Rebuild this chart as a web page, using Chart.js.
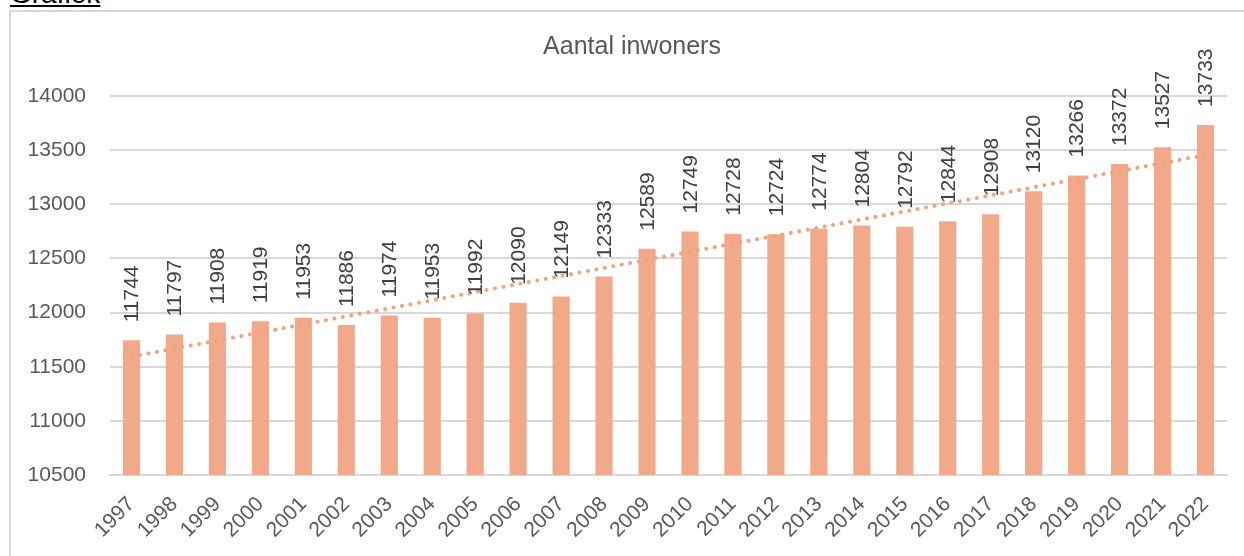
<!DOCTYPE html>
<html>
<head>
<meta charset="utf-8">
<script src="https://cdn.jsdelivr.net/npm/chart.js@4/dist/chart.umd.min.js"></script>
<style>
  html, body { margin: 0; padding: 0; background: #fff; overflow: hidden; }
  #wrap { position: relative; width: 1244px; height: 556px; }
  #frame { position: absolute; left: 9px; top: 10px; width: 1300px; height: 600px;
           border-left: 2px solid #d9d9d9; border-top: 2px solid #d9d9d9; box-sizing: border-box; }
  #heading { position: absolute; left: 10px; top: -21px; font-family: "Liberation Sans", Arial, sans-serif;
             font-size: 28px; color: #000; text-decoration: underline; line-height: 30px; }
  canvas { position: absolute; left: 0; top: 0; }
</style>
</head>
<body>
<div id="wrap">
  <div id="heading">Grafiek</div>
  <div id="frame"></div>
  <canvas id="c" width="1244" height="556"></canvas>
</div>
<script>
const years = ["1997","1998","1999","2000","2001","2002","2003","2004","2005","2006","2007","2008","2009","2010","2011","2012","2013","2014","2015","2016","2017","2018","2019","2020","2021","2022"];
const inwoners = [11744,11797,11908,11919,11953,11886,11974,11953,11992,12090,12149,12333,12589,12749,12728,12724,12774,12804,12792,12844,12908,13120,13266,13372,13527,13733];
const yTicks = [10500,11000,11500,12000,12500,13000,13500,14000];
const chartTitle = "Aantal inwoners";

// linear trendline (least squares), like Excel's trendline
const n = inwoners.length;
const xs = inwoners.map((_, i) => i);
const mx = xs.reduce((a, b) => a + b, 0) / n;
const my = inwoners.reduce((a, b) => a + b, 0) / n;
let sxy = 0, sxx = 0;
for (let i = 0; i < n; i++) { sxy += (xs[i] - mx) * (inwoners[i] - my); sxx += (xs[i] - mx) ** 2; }
const slope = sxy / sxx, icpt = my - slope * mx;
const trend = xs.map(x => icpt + slope * x);

const FONT = '"Liberation Sans", Arial, sans-serif';
const barColor = '#F1A98A';

const labelPlugin = {
  id: 'labels',
  afterDatasetsDraw(chart) {
    const ctx = chart.ctx;
    const meta = chart.getDatasetMeta(0);
    ctx.save();
    ctx.fillStyle = '#404040';
    ctx.font = '21px ' + FONT;
    ctx.textAlign = 'left';
    ctx.textBaseline = 'middle';
    meta.data.forEach((bar, i) => {
      ctx.save();
      ctx.translate(bar.x + 1, bar.y - 18);
      ctx.rotate(-Math.PI / 2);
      ctx.fillText(String(inwoners[i]), 0, 0);
      ctx.restore();
    });
    ctx.restore();
  },
  afterDraw(chart) {
    const ctx = chart.ctx;
    ctx.save();
    ctx.fillStyle = '#595959';
    ctx.font = '25px ' + FONT;
    ctx.textAlign = 'center';
    ctx.textBaseline = 'middle';
    ctx.fillText(chartTitle, 632, 47);
    ctx.restore();
  }
};

new Chart(document.getElementById('c'), {
  data: {
    labels: years,
    datasets: [
      {
        type: 'bar',
        data: inwoners,
        backgroundColor: barColor,
        borderWidth: 0,
        barPercentage: 0.4,
        categoryPercentage: 1.0,
        order: 2
      },
      {
        type: 'line',
        data: trend,
        borderColor: '#F0A283',
        borderWidth: 4,
        borderDash: [0.1, 8.5],
        borderCapStyle: 'round',
        pointRadius: 0,
        fill: false,
        tension: 0,
        order: 1
      }
    ]
  },
  options: {
    responsive: false,
    animation: false,
    devicePixelRatio: 1,
    layout: { padding: { left: 0, right: 17, top: 96, bottom: 0 } },
    plugins: { legend: { display: false }, title: { display: false }, tooltip: { enabled: false } },
    scales: {
      x: {
        offset: true,
        grid: { display: false, drawTicks: false },
        border: { display: true, color: '#d9d9d9', width: 2 },
        ticks: {
          color: '#595959',
          font: { family: FONT, size: 21 },
          maxRotation: 45, minRotation: 45,
          padding: 17,
          autoSkip: false
        },
        afterFit(s) { s.height = 81; }
      },
      y: {
        min: 10500, max: 14000,
        grid: { color: '#d9d9d9', lineWidth: 2, drawTicks: false },
        border: { display: false },
        afterBuildTicks(s) { s.ticks = yTicks.map(v => ({ value: v })); },
        ticks: {
          color: '#595959',
          font: { family: FONT, size: 21 },
          padding: 24,
          callback: (v) => String(v)
        },
        afterFit(s) { s.width = 110; }
      }
    }
  },
  plugins: [labelPlugin]
});
</script>
</body>
</html>
